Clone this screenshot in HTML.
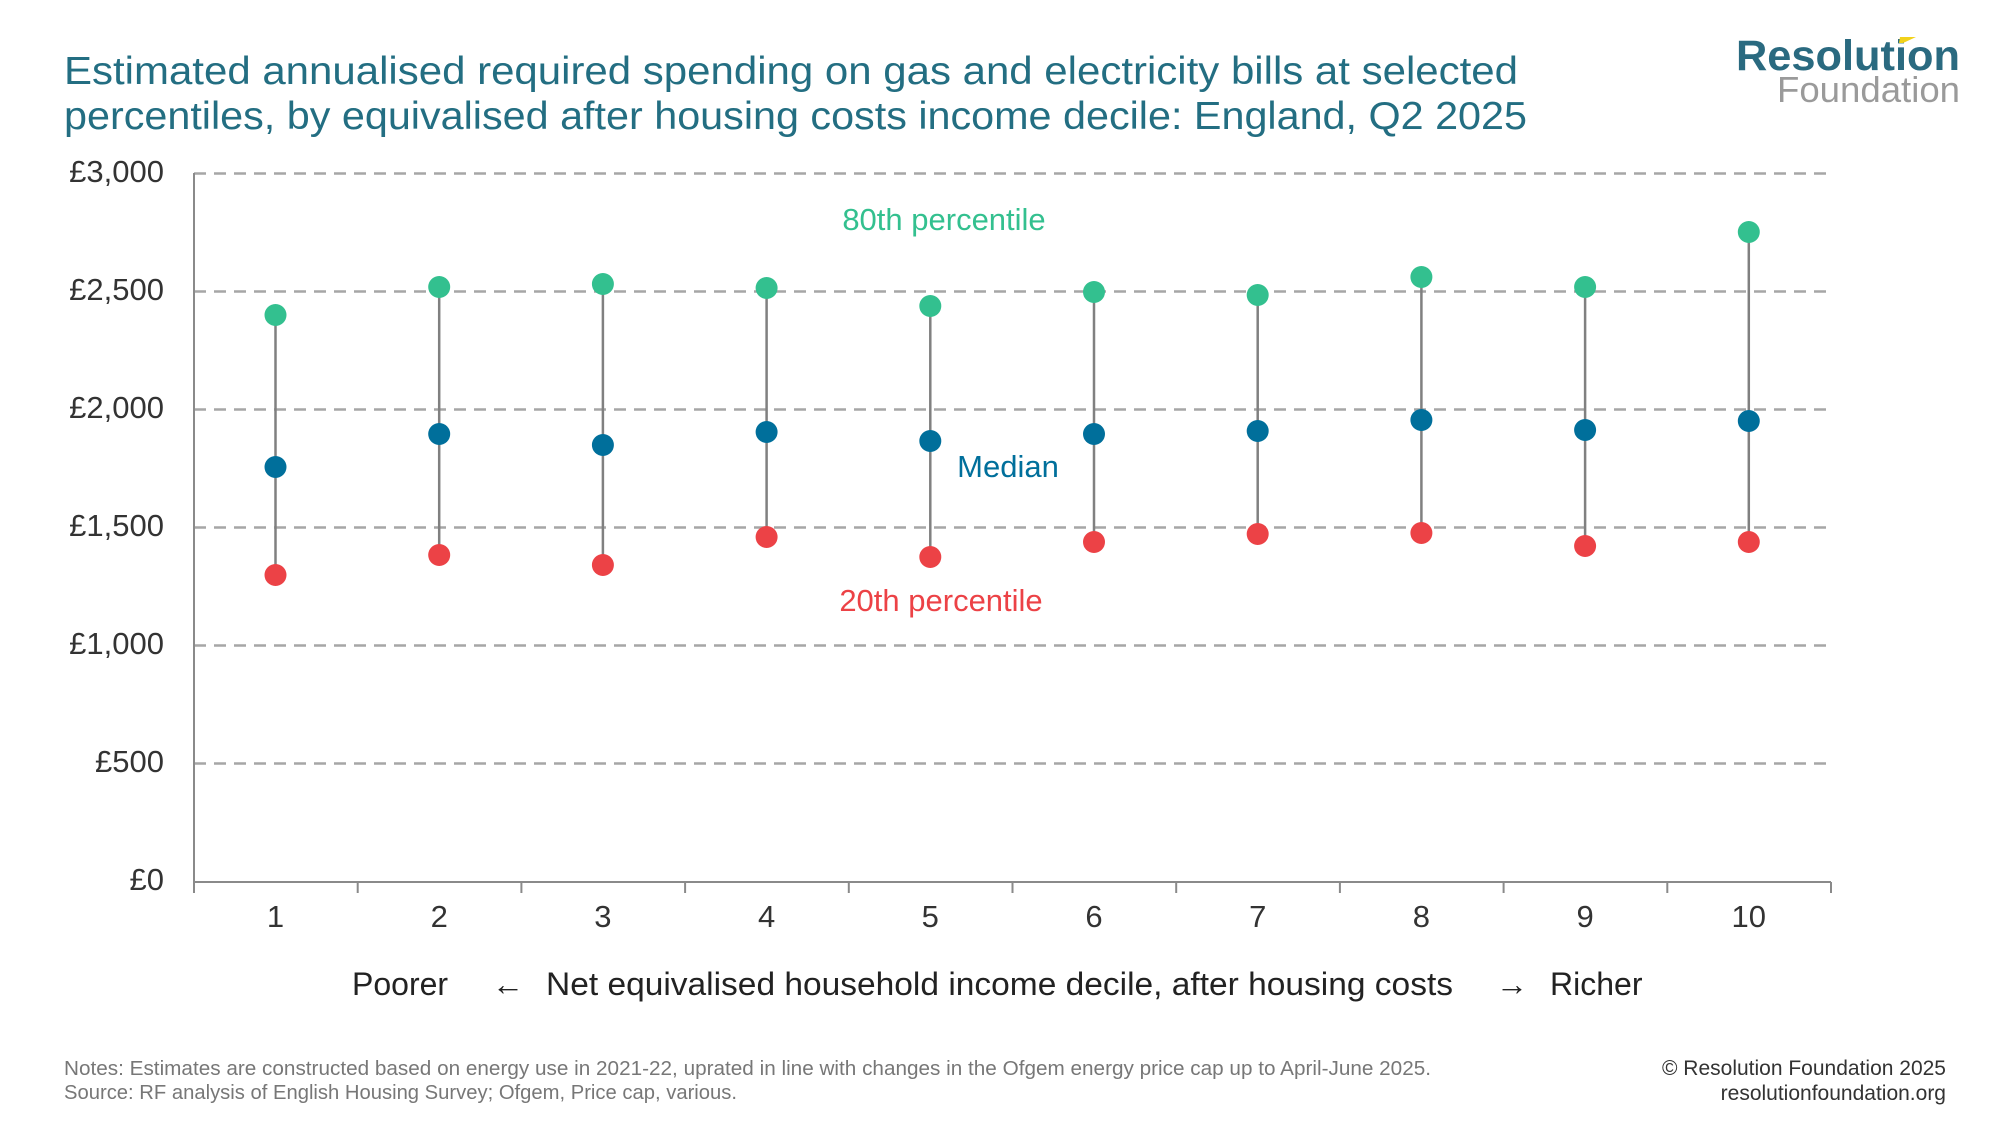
<!DOCTYPE html>
<html><head><meta charset="utf-8"><style>
html,body{margin:0;padding:0;background:#fff}
svg{display:block}
text{font-family:"Liberation Sans",sans-serif}
</style></head><body>
<svg width="2000" height="1125" viewBox="0 0 2000 1125" xmlns="http://www.w3.org/2000/svg">
<text x="64" y="84" font-size="39" fill="#236e82" textLength="1454" lengthAdjust="spacingAndGlyphs">Estimated annualised required spending on gas and electricity bills at selected</text>
<text x="64" y="129" font-size="39" fill="#236e82" textLength="1463" lengthAdjust="spacingAndGlyphs">percentiles, by equivalised after housing costs income decile: England, Q2 2025</text>
<text x="1736" y="70" font-size="43" font-weight="bold" fill="#2a6a80" textLength="224" lengthAdjust="spacingAndGlyphs">Resolution</text>
<polygon points="1900,37 1916,37 1903,43 1899,43" fill="#f2d21b"/>
<text x="1777" y="102" font-size="36" fill="#9a9a9a" textLength="183" lengthAdjust="spacingAndGlyphs">Foundation</text>
<g stroke="#a6a6a6" stroke-width="2.5" stroke-dasharray="12,8">
<line x1="194" x2="1831" y1="173.5" y2="173.5"/><line x1="194" x2="1831" y1="291.5" y2="291.5"/><line x1="194" x2="1831" y1="409.5" y2="409.5"/><line x1="194" x2="1831" y1="527.5" y2="527.5"/><line x1="194" x2="1831" y1="645.5" y2="645.5"/><line x1="194" x2="1831" y1="763.5" y2="763.5"/>
</g>
<g stroke="#8a8a8a" stroke-width="2">
<line x1="194" y1="173" x2="194" y2="882"/><line x1="194" y1="882" x2="1831" y2="882"/>
<line x1="194" y1="882" x2="194" y2="893"/><line x1="357.7" y1="882" x2="357.7" y2="893"/><line x1="521.4" y1="882" x2="521.4" y2="893"/><line x1="685.1" y1="882" x2="685.1" y2="893"/><line x1="848.8" y1="882" x2="848.8" y2="893"/><line x1="1012.5" y1="882" x2="1012.5" y2="893"/><line x1="1176.2" y1="882" x2="1176.2" y2="893"/><line x1="1339.9" y1="882" x2="1339.9" y2="893"/><line x1="1503.6" y1="882" x2="1503.6" y2="893"/><line x1="1667.3" y1="882" x2="1667.3" y2="893"/><line x1="1831" y1="882" x2="1831" y2="893"/>
</g>
<g font-size="31" fill="#333" text-anchor="end">
<text x="164" y="182">£3,000</text><text x="164" y="300">£2,500</text><text x="164" y="418">£2,000</text><text x="164" y="536">£1,500</text><text x="164" y="654">£1,000</text><text x="164" y="772">£500</text><text x="164" y="890">£0</text>
</g>
<g font-size="31" fill="#333" text-anchor="middle">
<text x="275.5" y="927">1</text><text x="439.2" y="927">2</text><text x="602.9" y="927">3</text><text x="766.6" y="927">4</text><text x="930.3" y="927">5</text><text x="1094" y="927">6</text><text x="1257.7" y="927">7</text><text x="1421.4" y="927">8</text><text x="1585.1" y="927">9</text><text x="1748.8" y="927">10</text>
</g>
<g font-size="32" fill="#222">
<text x="352" y="995">Poorer</text><text x="492" y="995">←</text><text x="546" y="995" textLength="907" lengthAdjust="spacingAndGlyphs">Net equivalised household income decile, after housing costs</text><text x="1496" y="995">→</text><text x="1550" y="995">Richer</text>
</g>
<g stroke="#808080" stroke-width="2.5">
<line x1="275.5" y1="315" x2="275.5" y2="575"/><line x1="439.2" y1="287" x2="439.2" y2="555"/><line x1="602.9" y1="284" x2="602.9" y2="565"/><line x1="766.6" y1="288" x2="766.6" y2="537"/><line x1="930.3" y1="306" x2="930.3" y2="557"/><line x1="1094" y1="292" x2="1094" y2="542"/><line x1="1257.7" y1="295" x2="1257.7" y2="534"/><line x1="1421.4" y1="277" x2="1421.4" y2="533"/><line x1="1585.1" y1="287" x2="1585.1" y2="546"/><line x1="1748.8" y1="232" x2="1748.8" y2="542"/>
</g>
<g fill="#33c08f">
<circle cx="275.5" cy="315" r="11"/><circle cx="439.2" cy="287" r="11"/><circle cx="602.9" cy="284" r="11"/><circle cx="766.6" cy="288" r="11"/><circle cx="930.3" cy="306" r="11"/><circle cx="1094" cy="292" r="11"/><circle cx="1257.7" cy="295" r="11"/><circle cx="1421.4" cy="277" r="11"/><circle cx="1585.1" cy="287" r="11"/><circle cx="1748.8" cy="232" r="11"/>
</g>
<g fill="#006f9b">
<circle cx="275.5" cy="467" r="11"/><circle cx="439.2" cy="434" r="11"/><circle cx="602.9" cy="445" r="11"/><circle cx="766.6" cy="432" r="11"/><circle cx="930.3" cy="441" r="11"/><circle cx="1094" cy="434" r="11"/><circle cx="1257.7" cy="431" r="11"/><circle cx="1421.4" cy="420" r="11"/><circle cx="1585.1" cy="430" r="11"/><circle cx="1748.8" cy="421" r="11"/>
</g>
<g fill="#ec4246">
<circle cx="275.5" cy="575" r="11"/><circle cx="439.2" cy="555" r="11"/><circle cx="602.9" cy="565" r="11"/><circle cx="766.6" cy="537" r="11"/><circle cx="930.3" cy="557" r="11"/><circle cx="1094" cy="542" r="11"/><circle cx="1257.7" cy="534" r="11"/><circle cx="1421.4" cy="533" r="11"/><circle cx="1585.1" cy="546" r="11"/><circle cx="1748.8" cy="542" r="11"/>
</g>
<text x="944" y="230" font-size="31" fill="#33c08f" text-anchor="middle">80th percentile</text>
<text x="1008" y="477" font-size="31" fill="#006f9b" text-anchor="middle">Median</text>
<text x="941" y="611" font-size="31" fill="#ec4246" text-anchor="middle">20th percentile</text>
<text x="64" y="1075" font-size="20" fill="#777" textLength="1367" lengthAdjust="spacingAndGlyphs">Notes: Estimates are constructed based on energy use in 2021-22, uprated in line with changes in the Ofgem energy price cap up to April-June 2025.</text>
<text x="64" y="1099" font-size="20" fill="#777" textLength="673" lengthAdjust="spacingAndGlyphs">Source: RF analysis of English Housing Survey; Ofgem, Price cap, various.</text>
<text x="1946" y="1075" font-size="21" fill="#333" text-anchor="end">© Resolution Foundation 2025</text>
<text x="1946" y="1100" font-size="21" fill="#333" text-anchor="end">resolutionfoundation.org</text>
</svg>
</body></html>
